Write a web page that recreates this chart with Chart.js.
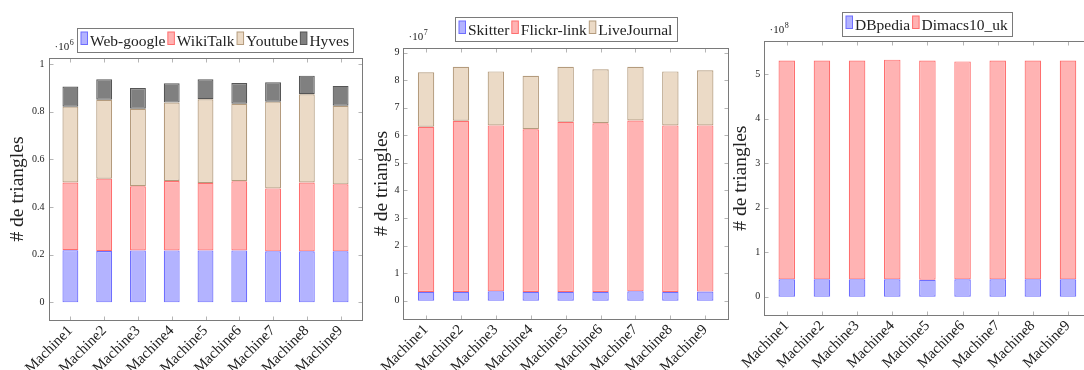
<!DOCTYPE html>
<html lang="fr">
<head>
<meta charset="UTF-8">
<title>Triangles par machine</title>
<script src="https://cdn.jsdelivr.net/npm/chart.js"></script>
<style>
    body { margin: 0; width: 1084px; height: 370px; overflow: hidden; background: #fff; position: relative; }
    .bloc { position: absolute; top: 0; width: 370px; height: 370px; }
</style>
</head>
<body>
<div class="bloc" style="left:0px"><canvas id="graf1" width="370" height="370"></canvas></div>
<div class="bloc" style="left:365px"><canvas id="graf2" width="370" height="370"></canvas></div>
<div class="bloc" style="left:725px"><canvas id="graf3" width="370" height="370"></canvas></div>

<script>
    // categories
    var machines = ["Machine1", "Machine2", "Machine3", "Machine4", "Machine5", "Machine6", "Machine7", "Machine8", "Machine9"];

    // graphe 1 (x 10^6)
    var webGoogle = [0.219, 0.215, 0.218, 0.218, 0.218, 0.218, 0.214, 0.214, 0.214];
    var wikiTalk  = [0.284, 0.304, 0.269, 0.291, 0.283, 0.290, 0.264, 0.289, 0.281];
    var youtube   = [0.318, 0.331, 0.325, 0.329, 0.351, 0.325, 0.364, 0.370, 0.330];
    var hyves     = [0.084, 0.086, 0.087, 0.081, 0.084, 0.087, 0.081, 0.078, 0.083];
    var ticks1 = [0, 0.2, 0.4, 0.6, 0.8, 1];

    // graphe 2 (x 10^7)
    var skitter     = [0.32, 0.32, 0.34, 0.32, 0.32, 0.32, 0.34, 0.32, 0.33];
    var flickrLink  = [5.99, 6.21, 6.02, 5.90, 6.17, 6.12, 6.20, 6.04, 6.03];
    var liveJournal = [1.98, 1.96, 1.96, 1.94, 2.00, 1.96, 1.95, 1.96, 2.00];
    var ticks2 = [0, 1, 2, 3, 4, 5, 6, 7, 8, 9];

    // graphe 3 (x 10^8)
    var dbpedia    = [0.39, 0.39, 0.39, 0.39, 0.38, 0.39, 0.39, 0.39, 0.39];
    var dimacs10uk = [4.92, 4.92, 4.92, 4.94, 4.93, 4.90, 4.92, 4.92, 4.92];
    var ticks3 = [0, 1, 2, 3, 4, 5];

    var bleu   = { fill: "rgb(179,179,255)", trait: "rgb(110,110,255)" };
    var rouge  = { fill: "rgb(255,179,179)", trait: "rgb(255,110,110)" };
    var beige  = { fill: "rgb(235,218,198)", trait: "rgb(180,155,125)" };
    var gris   = { fill: "rgb(128,128,128)", trait: "rgb(85,85,85)" };

    var police = '"Liberation Serif", serif';
    var noir = "#222";

    Chart.defaults.font.family = police;
    Chart.defaults.color = noir;

    function serie(nom, valeurs, couleur) {
        return {
            label: nom,
            data: valeurs,
            backgroundColor: couleur.fill,
            borderColor: couleur.trait,
            borderWidth: 1.2,
            borderSkipped: false,
            inflateAmount: 0,
            barPercentage: 0.47,
            categoryPercentage: 1
        };
    }

    function trait(ctx, x1, y1, x2, y2) {
        ctx.beginPath();
        ctx.moveTo(x1, y1);
        ctx.lineTo(x2, y2);
        ctx.stroke();
    }

    // cadre, petites graduations, exposant et legende facon pgfplots
    var pluginCadre = {
        id: "cadre",
        afterDraw: function (chart) {
            var cfg = chart.options.plugins.cadre;
            var ctx = chart.ctx;
            var a = chart.chartArea;
            var L = Math.round(a.left - cfg.marge) + 0.5;
            var R = Math.round(a.right + cfg.marge) + 0.5;
            var T = Math.round(a.top) + 0.5;
            var B = Math.round(a.bottom) + 0.5;
            var ys = chart.scales.y, xs = chart.scales.x;

            ctx.save();
            ctx.lineWidth = 1;
            ctx.strokeStyle = "#b5b5b5";
            ys.ticks.forEach(function (t) {
                var py = Math.round(ys.getPixelForValue(t.value)) + 0.5;
                trait(ctx, L, py, L + 4, py);
                trait(ctx, R - 4, py, R, py);
            });
            xs.ticks.forEach(function (t, i) {
                var px = Math.round(xs.getPixelForTick(i)) + 0.5;
                trait(ctx, px, T, px, T + 4);
                trait(ctx, px, B - 4, px, B);
            });
            ctx.strokeStyle = "#7a7a7a";
            ctx.strokeRect(L, T, R - L, B - T);

            // exposant
            ctx.fillStyle = noir;
            ctx.textBaseline = "alphabetic";
            ctx.textAlign = "left";
            ctx.font = "11px " + police;
            var ex = L + 5, ey = T - 9;
            ctx.fillText("\u00b710", ex, ey);
            var w = ctx.measureText("\u00b710").width;
            ctx.font = "8px " + police;
            ctx.fillText(cfg.exposant, ex + w + 0.5, ey - 5);

            // legende
            ctx.font = "15.5px " + police;
            var items = chart.data.datasets.map(function (ds) {
                return { label: ds.label, fill: ds.backgroundColor, trait: ds.borderColor, w: ctx.measureText(ds.label).width };
            });
            var sw = 6.5, gap = 2.5, padL = 3.5, padR = 5, h = 24;
            var total = padL + padR;
            items.forEach(function (it, i) { total += sw + gap + it.w + (i > 0 ? gap : 0); });
            var x = Math.round(cfg.legendeX - total / 2) + 0.5;
            var y = Math.round(cfg.legendeY) + 0.5;
            ctx.strokeStyle = "#7a7a7a";
            ctx.strokeRect(x, y, Math.round(total), h);
            var cx = x + padL;
            ctx.textBaseline = "middle";
            items.forEach(function (it, i) {
                if (i > 0) cx += gap;
                ctx.fillStyle = it.fill;
                ctx.fillRect(cx, y + 3.5, sw, 12.5);
                ctx.strokeStyle = it.trait;
                ctx.strokeRect(cx, y + 3.5, sw, 12.5);
                cx += sw + gap;
                ctx.fillStyle = noir;
                ctx.fillText(it.label, cx, y + h / 2 + 1);
                cx += it.w;
            });
            ctx.restore();
        }
    };

    function creerGraphe(id, datasets, ticks, ymin, ymax, reglage) {
        var canva = document.getElementById(id);
        return new Chart(canva, {
            type: "bar",
            data: { labels: machines, datasets: datasets },
            plugins: [pluginCadre],
            options: {
                responsive: false,
                animation: false,
                devicePixelRatio: 1,
                layout: { padding: { left: reglage.padG, right: reglage.padD, top: reglage.haut, bottom: 0 } },
                plugins: {
                    legend: { display: false },
                    tooltip: { enabled: false },
                    cadre: { marge: reglage.marge, exposant: reglage.exposant, legendeX: reglage.legendeX, legendeY: reglage.legendeY }
                },
                scales: {
                    x: {
                        stacked: true,
                        grid: { display: false, drawTicks: false },
                        border: { display: false },
                        ticks: { minRotation: 45, maxRotation: 45, padding: 2, color: noir, font: { size: 15, family: police } },
                        afterFit: function (s) { s.height = reglage.hautX; }
                    },
                    y: {
                        stacked: true,
                        min: ymin,
                        max: ymax,
                        grid: { display: false, drawTicks: false },
                        border: { display: false },
                        afterBuildTicks: function (s) { s.ticks = ticks.map(function (v) { return { value: v }; }); },
                        ticks: { padding: 9, color: noir, font: { size: 10, family: police }, callback: function (v) { return String(v); } },
                        title: { display: true, text: "# de triangles", color: noir, font: { size: 19.5, family: police }, padding: { top: 4, bottom: 4 } },
                        afterFit: function (s) { s.width = reglage.largY; }
                    }
                }
            }
        });
    }

    creerGraphe("graf1", [
        serie("Web-google", webGoogle, bleu),
        serie("WikiTalk", wikiTalk, rouge),
        serie("Youtube", youtube, beige),
        serie("Hyves", hyves, gris)
    ], ticks1, -0.074, 1.025,
    { padG: 2, padD: 12.5, haut: 58, hautX: 50, largY: 51.5, marge: 4.5, exposant: "6", legendeX: 215.4, legendeY: 28 });

    creerGraphe("graf2", [
        serie("Skitter", skitter, bleu),
        serie("Flickr-link", flickrLink, rouge),
        serie("LiveJournal", liveJournal, beige)
    ], ticks2, -0.664, 9.18,
    { padG: 1, padD: 12.3, haut: 47.7, hautX: 51, largY: 42.6, marge: 5.3, exposant: "7", legendeX: 200.5, legendeY: 17 });

    creerGraphe("graf3", [
        serie("DBpedia", dbpedia, bleu),
        serie("Dimacs10_uk", dimacs10uk, rouge)
    ], ticks3, -0.411, 5.742,
    { padG: 0, padD: 9.4, haut: 41.3, hautX: 55, largY: 44.2, marge: 5.2, exposant: "8", legendeX: 202, legendeY: 11.7 });
</script>
</body>
</html>
